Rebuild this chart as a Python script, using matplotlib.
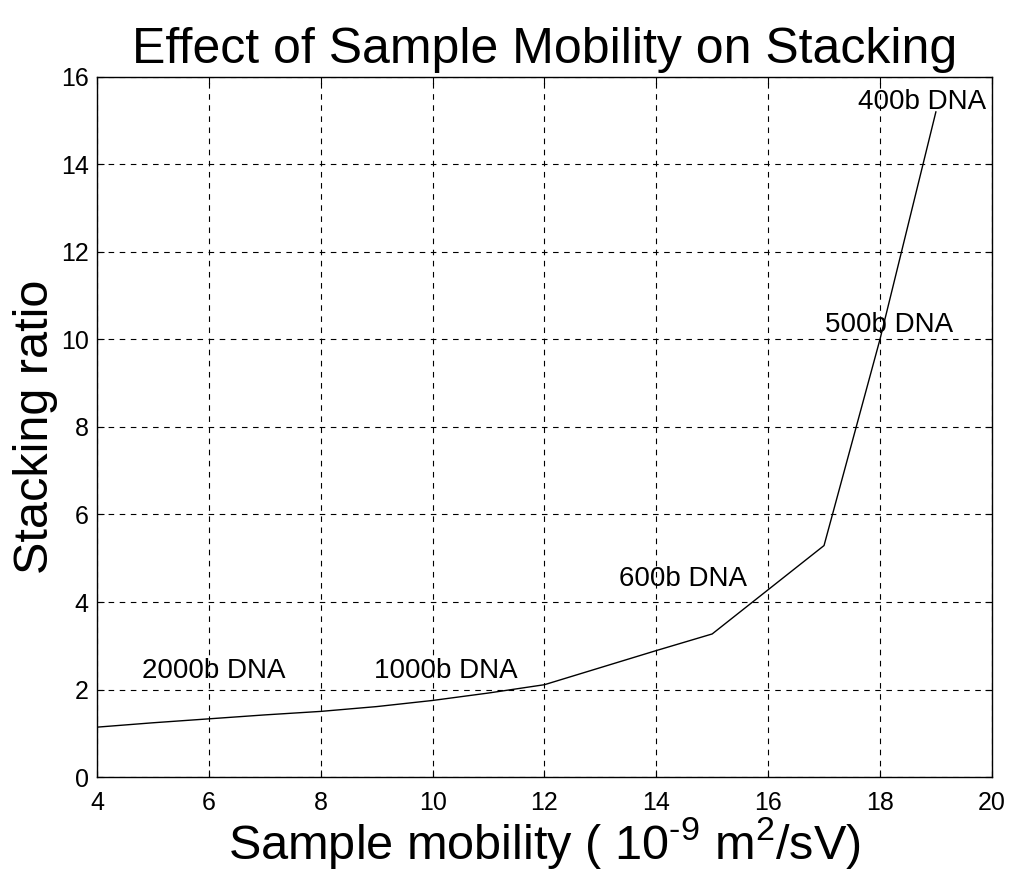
import matplotlib
matplotlib.use("Agg")
import matplotlib.pyplot as plt

# sample mobility (1e-9 m^2/sV) vs stacking ratio
mobility = [4, 5, 6, 7, 8, 9, 10, 11, 12, 14, 15, 17, 18, 19]
ratio = [1.14, 1.24, 1.33, 1.42, 1.50, 1.61, 1.75, 1.92, 2.11, 2.89, 3.27, 5.29, 10.0, 15.2]

labels = ["2000b DNA", "1000b DNA", "600b DNA", "500b DNA", "400b DNA"]
label_x = [4.8, 8.96, 13.34, 17.02, 17.61]
label_y = [2.43, 2.43, 4.52, 10.34, 15.43]

plt.rcParams["font.family"] = ["Liberation Sans", "DejaVu Sans"]
plt.rcParams["mathtext.fontset"] = "custom"
plt.rcParams["mathtext.rm"] = "Liberation Sans"

fig = plt.figure(figsize=(10.11, 8.84), dpi=100)
ax = fig.add_axes([0.096, 0.121, 0.885, 0.792])

ax.plot(mobility, ratio, color="black", linewidth=1.0)

for t, x, y in zip(labels, label_x, label_y):
    ax.text(x, y, t, fontsize=20, ha="left", va="center")

ax.set_xlim(4, 20)
ax.set_ylim(0, 16)
ax.set_xticks(range(4, 21, 2))
ax.set_yticks(range(0, 17, 2))
ax.grid(True, color="black", linestyle=(0, (5, 5)), linewidth=0.8)
ax.tick_params(direction="in", top=True, right=True, labelsize=18, length=5, pad=6)
ax.tick_params(axis="x", pad=10)
for s in ax.spines.values():
    s.set_linewidth(1.0)

ax.set_title("Effect of Sample Mobility on Stacking", fontsize=36, pad=10)
ax.set_xlabel("Sample mobility ( 10$^{\u20109}$ m$^{2}$/sV)", fontsize=35, labelpad=0)
ax.set_ylabel("Stacking ratio", fontsize=35, labelpad=2)

fig.savefig("out.png", dpi=100)
